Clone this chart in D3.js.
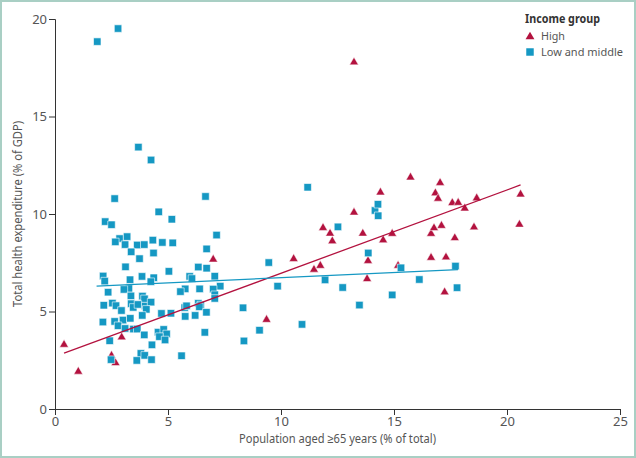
<!DOCTYPE html>
<html>
<head>
<meta charset="utf-8">
<script src="https://cdn.jsdelivr.net/npm/d3@7"></script>
<style>
html,body{margin:0;padding:0;background:#fff;}
svg{display:block;}
text{font-family:"Noto Sans",sans-serif;}
</style>
</head>
<body>
<svg id="chart" width="636" height="458"></svg>
<script>
// ---- data ----
const xTicks = [0, 5, 10, 15, 20, 25];
const yTicks = [0, 5, 10, 15, 20];
const seriesNames = ["High", "Low and middle"];
const highX = [0.40,1.03,2.95,2.68,2.50,7.00,9.36,10.56,11.46,11.74,11.86,12.17,12.27,13.23,13.23,13.62,13.81,13.85,14.40,14.52,14.92,15.18,15.73,16.64,16.64,16.77,16.83,16.95,17.04,17.10,17.30,17.24,17.58,17.69,17.84,18.13,18.54,18.66,20.55,20.60];
const highY = [3.34,1.96,3.72,2.40,2.78,7.71,4.62,7.74,7.19,7.39,9.33,9.04,8.65,17.82,10.12,9.04,6.71,7.64,11.15,8.70,9.03,7.39,11.92,9.03,7.80,9.32,11.11,10.83,11.64,9.44,7.82,6.03,10.61,8.81,10.62,10.33,9.36,10.85,9.50,11.05];
const lowX = [1.87,2.79,3.69,4.25,11.18,2.64,6.66,4.59,5.17,2.22,2.50,7.15,2.86,3.19,2.67,3.10,3.64,3.95,4.33,4.75,5.21,3.37,4.36,3.74,6.71,3.12,5.04,6.34,6.71,7.07,5.96,6.06,3.85,4.37,2.13,2.20,3.32,4.24,7.31,7.00,7.07,7.07,5.76,5.55,6.40,3.27,3.05,2.35,3.36,3.87,3.96,2.16,2.54,2.70,3.37,3.46,3.67,3.99,4.25,4.04,2.94,4.71,5.13,5.74,5.82,6.34,6.45,6.39,6.70,6.20,5.76,3.86,2.12,2.64,3.01,3.33,2.79,3.10,3.47,3.64,3.95,4.56,4.81,4.94,4.62,4.87,4.29,2.42,6.63,3.80,3.97,3.62,4.27,2.48,5.60,8.32,8.36,9.05,9.46,9.85,10.93,11.95,12.52,12.73,13.47,13.86,14.16,14.29,14.30,14.92,15.31,16.12,17.72,17.79];
const lowY = [18.84,19.51,13.43,12.77,11.37,10.79,10.90,10.11,9.73,9.61,9.45,8.92,8.74,8.84,8.57,8.43,8.41,8.43,8.66,8.54,8.52,8.06,8.00,7.71,8.21,7.29,7.06,7.28,7.22,6.81,6.80,6.69,6.80,6.73,6.82,6.56,6.63,6.53,6.30,6.15,5.86,5.67,6.16,6.02,6.16,6.18,6.13,5.99,5.80,5.79,5.65,5.32,5.43,5.30,5.40,5.21,5.36,5.28,5.48,5.11,5.05,4.90,4.91,5.20,5.29,5.42,5.33,5.24,4.96,4.80,4.75,4.80,4.46,4.49,4.56,4.65,4.27,4.13,4.10,4.10,3.80,3.94,4.08,3.85,3.71,3.54,3.29,3.50,3.93,2.85,2.75,2.49,2.53,2.53,2.73,5.19,3.49,4.04,7.51,6.30,4.34,6.62,9.34,6.23,5.33,8.00,10.18,10.50,9.91,5.85,7.24,6.64,7.33,6.22];
// fitted trend lines (endpoints)
const trendHighX = [0.40, 20.60];
const trendHighY = [2.86, 11.49];
const trendLowX = [1.84, 17.83];
const trendLowY = [6.30, 7.15];

// ---- layout ----
const W = 636, H = 458;
const m = {left: 55, right: 16, top: 19, bottom: 49};
const colHigh = "#b3123f", colLow = "#1598c3";
const svg = d3.select("#chart");

svg.append("rect").attr("x", 1).attr("y", 1).attr("width", W - 2).attr("height", H - 2)
  .attr("fill", "#fff").attr("stroke", "#a9cfc4").attr("stroke-width", 2);

const x = d3.scaleLinear().domain([0, 25]).range([m.left, W - m.right]);
const y = d3.scaleLinear().domain([0, 20]).range([H - m.bottom, m.top]);

const xAxis = svg.append("g").attr("transform", `translate(0,${H - m.bottom})`)
  .call(d3.axisBottom(x).tickValues(xTicks).tickFormat(d3.format("d")).tickSize(6).tickPadding(2));
const yAxis = svg.append("g").attr("transform", `translate(${m.left},0)`)
  .call(d3.axisLeft(y).tickValues(yTicks).tickFormat(d3.format("d")).tickSize(6).tickPadding(2));
[xAxis, yAxis].forEach(a => {
  a.select(".domain").attr("stroke", "#333").attr("stroke-width", 1);
  a.selectAll(".tick line").attr("stroke", "#333");
  a.selectAll(".tick text").attr("fill", "#555").style("font-size", "13px")
    .style("font-family", "'Noto Sans',sans-serif");
});

// axis titles
svg.append("text").attr("x", (m.left + W - m.right) / 2).attr("y", 443)
  .attr("text-anchor", "middle").attr("fill", "#555").style("font-size", "12.5px")
  .attr("textLength", 197).attr("lengthAdjust", "spacingAndGlyphs")
  .text("Population aged ≥65 years (% of total)");
svg.append("text").attr("transform", `translate(22,${(m.top + H - m.bottom) / 2}) rotate(-90)`)
  .attr("text-anchor", "middle").attr("fill", "#555").style("font-size", "12.5px")
  .attr("textLength", 186).attr("lengthAdjust", "spacingAndGlyphs")
  .text("Total health expenditure (% of GDP)");

// points
const high = highX.map((v, i) => ({x: v, y: highY[i]}));
const low = lowX.map((v, i) => ({x: v, y: lowY[i]}));
const tri = d3.symbol().type(d3.symbolTriangle).size(34);
const sq = d3.symbol().type(d3.symbolSquare).size(56);

svg.append("g").selectAll("path").data(high).join("path")
  .attr("d", tri).attr("transform", d => `translate(${x(d.x)},${y(d.y) + 0.8})`)
  .attr("fill", colHigh).attr("stroke", "#fff").attr("stroke-width", 0.5);
svg.append("g").selectAll("path").data(low).join("path")
  .attr("d", sq).attr("transform", d => `translate(${x(d.x)},${y(d.y)})`)
  .attr("fill", colLow).attr("stroke", "#fff").attr("stroke-width", 0.6);

// trend lines
const line = d3.line().x(d => x(d[0])).y(d => y(d[1]));
svg.append("path").datum(trendHighX.map((v, i) => [v, trendHighY[i]])).attr("d", line)
  .attr("fill", "none").attr("stroke", colHigh).attr("stroke-width", 1.3);
svg.append("path").datum(trendLowX.map((v, i) => [v, trendLowY[i]])).attr("d", line)
  .attr("fill", "none").attr("stroke", colLow).attr("stroke-width", 1.3);

// legend
const lg = svg.append("g");
lg.append("text").attr("x", 525).attr("y", 23).attr("fill", "#333")
  .style("font-size", "12.5px").style("font-weight", "bold")
  .attr("textLength", 75).attr("lengthAdjust", "spacingAndGlyphs").text("Income group");
const legItems = [
  {name: seriesNames[0], sym: tri, col: colHigh, cy: 36, w: 24},
  {name: seriesNames[1], sym: sq, col: colLow, cy: 52, w: 82}
];
legItems.forEach(it => {
  lg.append("path").attr("d", it.sym).attr("fill", it.col)
    .attr("transform", `translate(530,${it.cy + (it.sym === tri ? 0.8 : 0)})`);
  lg.append("text").attr("x", 541).attr("y", it.cy + 4).attr("fill", "#555")
    .style("font-size", "11.5px").attr("textLength", it.w).attr("lengthAdjust", "spacingAndGlyphs")
    .text(it.name);
});
</script>
</body>
</html>
